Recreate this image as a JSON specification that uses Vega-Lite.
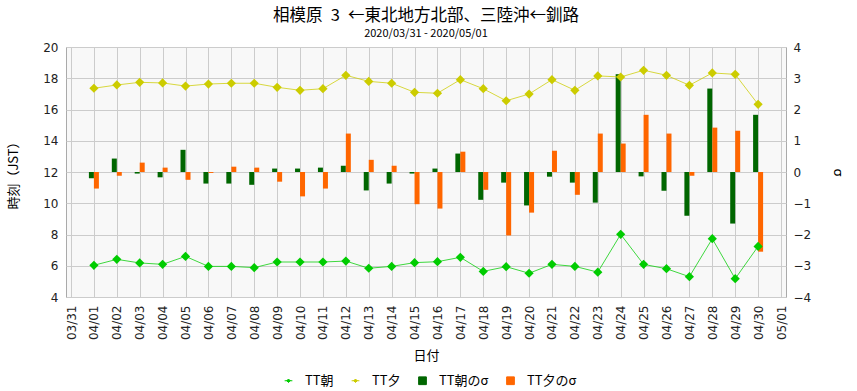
{
  "$schema": "https://vega.github.io/schema/vega-lite/v6.json",
  "width": 720,
  "height": 250,
  "autosize": {"type": "none"},
  "padding": {"left": 66, "top": 47, "right": 71, "bottom": 94},
  "background": "white",
  "title": {
    "text": "相模原\u20023\u2002←東北地方北部、三陸沖←釧路",
    "subtitle": "2020/03/31 - 2020/05/01",
    "anchor": "middle",
    "font": "Noto Sans CJK JP",
    "fontSize": 16.5,
    "fontWeight": "normal",
    "color": "#000000",
    "subtitleFont": "Noto Sans CJK JP",
    "subtitleFontSize": 11,
    "subtitleColor": "#000000",
    "subtitlePadding": 4,
    "offset": 2
  },
  "config": {
    "view": {"fill": "#f8f8f8", "stroke": "#aaaaaa"},
    "axis": {
      "labelFont": "DejaVu Sans",
      "labelFontSize": 12,
      "labelColor": "#222222",
      "titleFont": "Noto Sans CJK JP",
      "titleFontSize": 13,
      "titleFontWeight": "normal",
      "titleColor": "#000000",
      "gridColor": "#cccccc",
      "gridOpacity": 1,
      "domain": false,
      "ticks": false
    },
    "legend": {
      "labelFont": "Noto Sans CJK JP",
      "labelFontSize": 13,
      "labelColor": "#000000",
      "symbolSize": 60,
      "labelOffset": 10,
      "columnPadding": 15
    }
  },
  "data": {
    "values": [
      {"date": "2020-04-01", "asa": 6.03, "yu": 17.36, "asa_s": -0.20, "yu_s": -0.53},
      {"date": "2020-04-02", "asa": 6.41, "yu": 17.57, "asa_s": 0.43, "yu_s": -0.12},
      {"date": "2020-04-03", "asa": 6.18, "yu": 17.74, "asa_s": -0.05, "yu_s": 0.30},
      {"date": "2020-04-04", "asa": 6.09, "yu": 17.70, "asa_s": -0.17, "yu_s": 0.14},
      {"date": "2020-04-05", "asa": 6.60, "yu": 17.50, "asa_s": 0.71, "yu_s": -0.25},
      {"date": "2020-04-06", "asa": 5.96, "yu": 17.63, "asa_s": -0.37, "yu_s": -0.03},
      {"date": "2020-04-07", "asa": 5.96, "yu": 17.68, "asa_s": -0.37, "yu_s": 0.17},
      {"date": "2020-04-08", "asa": 5.88, "yu": 17.68, "asa_s": -0.41, "yu_s": 0.14},
      {"date": "2020-04-09", "asa": 6.24, "yu": 17.42, "asa_s": 0.11, "yu_s": -0.31},
      {"date": "2020-04-10", "asa": 6.24, "yu": 17.23, "asa_s": 0.11, "yu_s": -0.78},
      {"date": "2020-04-11", "asa": 6.24, "yu": 17.33, "asa_s": 0.14, "yu_s": -0.53},
      {"date": "2020-04-12", "asa": 6.30, "yu": 18.19, "asa_s": 0.20, "yu_s": 1.23},
      {"date": "2020-04-13", "asa": 5.84, "yu": 17.80, "asa_s": -0.59, "yu_s": 0.39},
      {"date": "2020-04-14", "asa": 5.96, "yu": 17.68, "asa_s": -0.37, "yu_s": 0.20},
      {"date": "2020-04-15", "asa": 6.20, "yu": 17.10, "asa_s": -0.05, "yu_s": -1.03},
      {"date": "2020-04-16", "asa": 6.26, "yu": 17.04, "asa_s": 0.11, "yu_s": -1.17},
      {"date": "2020-04-17", "asa": 6.54, "yu": 17.91, "asa_s": 0.59, "yu_s": 0.65},
      {"date": "2020-04-18", "asa": 5.64, "yu": 17.33, "asa_s": -0.89, "yu_s": -0.57},
      {"date": "2020-04-19", "asa": 5.94, "yu": 16.56, "asa_s": -0.34, "yu_s": -2.03},
      {"date": "2020-04-20", "asa": 5.52, "yu": 16.99, "asa_s": -1.07, "yu_s": -1.30},
      {"date": "2020-04-21", "asa": 6.09, "yu": 17.91, "asa_s": -0.15, "yu_s": 0.68},
      {"date": "2020-04-22", "asa": 5.96, "yu": 17.23, "asa_s": -0.34, "yu_s": -0.73},
      {"date": "2020-04-23", "asa": 5.59, "yu": 18.15, "asa_s": -0.98, "yu_s": 1.23},
      {"date": "2020-04-24", "asa": 8.01, "yu": 18.08, "asa_s": 3.13, "yu_s": 0.91},
      {"date": "2020-04-25", "asa": 6.09, "yu": 18.51, "asa_s": -0.14, "yu_s": 1.83},
      {"date": "2020-04-26", "asa": 5.81, "yu": 18.19, "asa_s": -0.60, "yu_s": 1.23},
      {"date": "2020-04-27", "asa": 5.30, "yu": 17.55, "asa_s": -1.40, "yu_s": -0.12},
      {"date": "2020-04-28", "asa": 7.73, "yu": 18.34, "asa_s": 2.67, "yu_s": 1.42},
      {"date": "2020-04-29", "asa": 5.17, "yu": 18.25, "asa_s": -1.65, "yu_s": 1.32},
      {"date": "2020-04-30", "asa": 7.24, "yu": 16.33, "asa_s": 1.83, "yu_s": -2.55}
    ]
  },
  "encoding": {
    "x": {
      "field": "date",
      "type": "temporal",
      "title": "日付",
      "scale": {"type": "utc", "domain": ["2020-03-31", "2020-05-01"]},
      "axis": {
        "labelExpr": "utcFormat(datum.value, '%m/%d')",
        "tickCount": {"interval": "day", "step": 1},
        "labelAngle": -90,
        "labelAlign": "right",
        "labelBaseline": "middle",
        "labelPadding": 8,
        "labelOverlap": false,
        "labelBound": false,
        "labelFlush": false,
        "titlePadding": 10,
        "grid": true
      }
    }
  },
  "layer": [
    {
      "layer": [
        {
          "mark": {"type": "bar", "size": 5, "xOffset": -2.5},
          "encoding": {
            "y": {
              "field": "asa_s",
              "type": "quantitative",
              "title": "σ",
              "scale": {"domain": [-4, 4]},
              "axis": {"orient": "right", "grid": false, "tickCount": 8, "labelPadding": 7, "titleAngle": 90, "titlePadding": 20, "titleFont": "DejaVu Sans"}
            },
            "color": {
              "datum": "TT朝のσ",
              "scale": {
                "domain": ["TT朝", "TT夕", "TT朝のσ", "TT夕のσ"],
                "range": ["#00cc00", "#cccc00", "#006600", "#ff6600"]
              },
              "legend": {
                "title": null,
                "orient": "none",
                "direction": "horizontal",
                "legendX": 216,
                "legendY": 327,
                "encode": {
                  "symbols": {
                    "update": {
                      "shape": {"signal": "(datum.value === 'TT朝' || datum.value === 'TT夕') ? 'M-1,0L1,0M0,-0.45L0.45,0L0,0.45L-0.45,0Z' : 'square'"},
                      "fill": {"signal": "datum.value === 'TT朝' ? '#00cc00' : datum.value === 'TT夕' ? '#cccc00' : datum.value === 'TT朝のσ' ? '#006600' : '#ff6600'"},
                      "stroke": {"signal": "datum.value === 'TT朝' ? '#00cc00' : datum.value === 'TT夕' ? '#cccc00' : '#888888'"},
                      "strokeWidth": {"value": 1},
                      "opacity": {"value": 1},
                      "fillOpacity": {"value": 1}
                    }
                  }
                }
              }
            }
          }
        },
        {
          "mark": {"type": "bar", "size": 5, "xOffset": 2.5},
          "encoding": {
            "y": {"field": "yu_s", "type": "quantitative"},
            "color": {"datum": "TT夕のσ"}
          }
        }
      ]
    },
    {
      "layer": [
        {
          "mark": {"type": "line", "strokeWidth": 1, "strokeOpacity": 0.75, "point": {"shape": "diamond", "size": 85, "filled": true, "opacity": 1}},
          "encoding": {
            "y": {
              "field": "asa",
              "type": "quantitative",
              "title": "時刻（JST）",
              "scale": {"domain": [4, 20]},
              "axis": {"orient": "left", "grid": true, "tickCount": 8, "labelPadding": 8, "titlePadding": 22}
            },
            "color": {"datum": "TT朝"}
          }
        },
        {
          "mark": {"type": "line", "strokeWidth": 1, "strokeOpacity": 0.75, "point": {"shape": "diamond", "size": 85, "filled": true, "opacity": 1}},
          "encoding": {
            "y": {"field": "yu", "type": "quantitative"},
            "color": {"datum": "TT夕"}
          }
        }
      ]
    }
  ],
  "resolve": {"scale": {"y": "independent"}, "axis": {"y": "independent"}}
}
